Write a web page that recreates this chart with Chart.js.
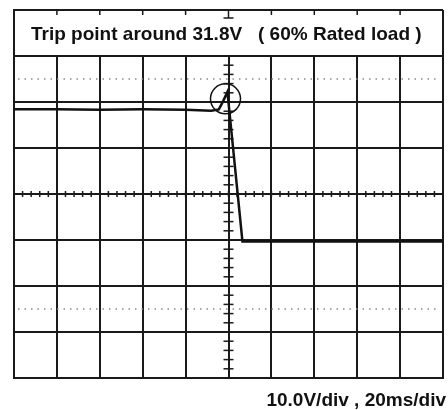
<!DOCTYPE html>
<html>
<head>
<meta charset="utf-8">
<script src="https://cdn.jsdelivr.net/npm/chart.js@4"></script>
<style>
  html, body { margin: 0; padding: 0; background: #fff; }
  canvas { display: block; }
</style>
</head>
<body>
<canvas id="scope" width="448" height="410"></canvas>
<script>
'use strict';

// ── Data (time in ms, voltage in V) ───────────
const TRACE_MS = [-100, -80, -60, -40, -20, -8, -4.5, -2.5, -0.5, 6.5, 100];
const TRACE_V  = [28.4, 28.4, 28.3, 28.4, 28.3, 28.1, 28.4, 30.2, 32.2, -0.3, -0.3];
const MARK_MS  = [-1.4];
const MARK_V   = [30.7];
const X_GRID   = [-100, -80, -60, -40, -20, 0, 20, 40, 60, 80, 100];
const Y_GRID   = [-30, -20, -10, 0, 10, 20, 30, 40, 50];
const DOTTED_V = [35, -15];
const TITLE_LEFT  = 'Trip point around 31.8V';
const TITLE_RIGHT = '( 60% Rated load )';
const SCALE_TEXT  = '10.0V/div , 20ms/div';

const INK  = '#1a1a1a';
const FONT = 'bold 19px "Liberation Sans", Arial, sans-serif';

// ── Scope decorations: title band, centre ticks, dotted lines, captions ──
const scopeDecor = {
  id: 'scopeDecor',
  beforeDatasetsDraw(chart) {
    const { ctx, chartArea: a, scales: { x, y } } = chart;
    const top = a.top, bandBottom = y.getPixelForValue(40);
    const cx = x.getPixelForValue(0), cy = y.getPixelForValue(10);

    ctx.save();
    // white title band hides the top division
    ctx.fillStyle = '#fff';
    ctx.fillRect(a.left + 1, top + 1, a.right - a.left - 2, bandBottom - top - 2);

    // short stubs at the top of each vertical line
    ctx.strokeStyle = INK;
    ctx.lineWidth = 1.5;
    X_GRID.slice(1, -1).forEach(v => {
      const px = x.getPixelForValue(v);
      ctx.beginPath();
      ctx.moveTo(px, top);
      ctx.lineTo(px, top + (v === 0 ? 8 : 5));
      ctx.stroke();
    });
    ctx.beginPath();
    ctx.moveTo(cx - 5, top + 8);
    ctx.lineTo(cx + 5, top + 8);
    ctx.stroke();

    // dotted reference lines
    ctx.strokeStyle = '#8a8a8a';
    ctx.lineWidth = 1.5;
    ctx.setLineDash([1.5, 5]);
    DOTTED_V.forEach(v => {
      const py = y.getPixelForValue(v);
      ctx.beginPath();
      ctx.moveTo(a.left + 4, py);
      ctx.lineTo(a.right - 4, py);
      ctx.stroke();
    });
    ctx.setLineDash([]);

    // minor ticks on the centre axes
    ctx.strokeStyle = INK;
    ctx.lineWidth = 1.5;
    for (let v = -30; v < 40; v += 2) {
      const py = y.getPixelForValue(v);
      ctx.beginPath();
      ctx.moveTo(cx - 5, py);
      ctx.lineTo(cx + 5, py);
      ctx.stroke();
    }
    for (let t = -100; t <= 100; t += 4) {
      const px = x.getPixelForValue(t);
      ctx.beginPath();
      ctx.moveTo(px, cy - 3);
      ctx.lineTo(px, cy + 3);
      ctx.stroke();
    }

    // captions
    ctx.fillStyle = '#111';
    ctx.font = FONT;
    ctx.textBaseline = 'alphabetic';
    ctx.textAlign = 'left';
    ctx.fillText(TITLE_LEFT, 31, 40);
    ctx.fillText(TITLE_RIGHT, 258, 40);
    ctx.textAlign = 'right';
    ctx.fillText(SCALE_TEXT, 446, 406);
    ctx.restore();
  }
};

new Chart(document.getElementById('scope').getContext('2d'), {
  type: 'line',
  data: {
    datasets: [
      {
        data: TRACE_MS.map((t, i) => ({ x: t, y: TRACE_V[i] })),
        borderColor: '#111',
        borderWidth: 2.5,
        pointRadius: 0,
        tension: 0
      },
      {
        type: 'scatter',
        data: MARK_MS.map((t, i) => ({ x: t, y: MARK_V[i] })),
        pointRadius: 15,
        pointBorderWidth: 1.5,
        pointBorderColor: '#111',
        pointBackgroundColor: 'rgba(0,0,0,0)'
      }
    ]
  },
  options: {
    responsive: false,
    animation: false,
    devicePixelRatio: 1,
    layout: { autoPadding: false, padding: { left: 14, top: 10, right: 5, bottom: 32 } },
    plugins: { legend: { display: false }, tooltip: { enabled: false } },
    scales: {
      x: {
        type: 'linear',
        min: X_GRID[0], max: X_GRID[X_GRID.length - 1],
        afterBuildTicks: s => { s.ticks = X_GRID.map(v => ({ value: v })); },
        ticks: { display: false },
        grid: { color: INK, lineWidth: 2, drawTicks: false },
        border: { color: INK, width: 2 }
      },
      y: {
        min: Y_GRID[0], max: Y_GRID[Y_GRID.length - 1],
        afterBuildTicks: s => { s.ticks = Y_GRID.map(v => ({ value: v })); },
        ticks: { display: false },
        grid: { color: INK, lineWidth: 2, drawTicks: false },
        border: { color: INK, width: 2 }
      }
    }
  },
  plugins: [scopeDecor]
});
</script>
</body>
</html>
